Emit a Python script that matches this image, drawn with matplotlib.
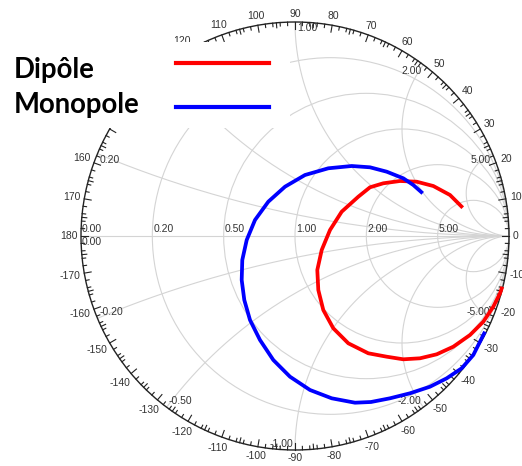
import numpy as np
import matplotlib
matplotlib.use("Agg")
import matplotlib.pyplot as plt
from matplotlib.patches import Circle, Rectangle
from matplotlib.lines import Line2D

dipole_re = [0.7837, 0.7243, 0.6463, 0.5687, 0.4907, 0.4126, 0.3505, 0.2958, 0.2182,
             0.1636, 0.1248, 0.1042, 0.1089, 0.1322, 0.1790, 0.2491, 0.3425, 0.4285,
             0.5061, 0.5841, 0.6622, 0.7397, 0.8178, 0.8799, 0.9266, 0.9579, 0.9687]
dipole_im = [0.1322, 0.1916, 0.2336, 0.2537, 0.2570, 0.2463, 0.2276, 0.1836, 0.1136,
             0.0280, -0.0654, -0.1589, -0.2523, -0.3458, -0.4313, -0.5014, -0.5481, -0.5640,
             -0.5762, -0.5715, -0.5528, -0.5173, -0.4626, -0.4005, -0.3304, -0.2678, -0.2369]

monopole_re = [0.5967, 0.5528, 0.5061, 0.4285, 0.3505, 0.2650, 0.1556, 0.0467, -0.0467,
               -0.1248, -0.1869, -0.2257, -0.2463, -0.2491, -0.2369, -0.2103, -0.1636, -0.1014,
               -0.0234, 0.0701, 0.1715, 0.2804, 0.3551, 0.4439, 0.5374, 0.6308, 0.7089,
               0.7790, 0.8332, 0.8879]
monopole_im = [0.1995, 0.2383, 0.2696, 0.3005, 0.3210, 0.3271, 0.3164, 0.2850, 0.2304,
               0.1603, 0.0748, -0.0187, -0.1121, -0.2056, -0.2991, -0.3925, -0.4860, -0.5794,
               -0.6575, -0.7196, -0.7584, -0.7790, -0.7757, -0.7584, -0.7350, -0.7042, -0.6650,
               -0.6182, -0.5561, -0.4472]

series_names = ["Dipôle", "Monopole"]
series_colors = ["#ff0000", "#0000ff"]

resistance_values = [0.2, 0.5, 1.0, 2.0, 5.0]
reactance_values = [0.2, 0.5, 1.0, 2.0, 5.0]
angle_labels = [a for a in range(-170, 190, 10) if a not in (130, 140, 150)]

# ---- figure ----
W, H = 522, 466
CX, CY, R = 295, 236, 214
fig = plt.figure(figsize=(W / 100, H / 100), dpi=100)
ax = fig.add_axes([0, 0, 1, 1])
ax.set_xlim(-CX / R, (W - CX) / R)
ax.set_ylim(-(H - CY) / R, CY / R)
ax.axis("off")
px = 1.0 / R

grid_c = "#d4d4d4"
txt_c = "#333333"
font = "Liberation Sans"

# real axis
ax.plot([-1, 1], [0, 0], color=grid_c, lw=0.8, zorder=1)
# resistance circles
for r in resistance_values:
    ax.add_patch(Circle((r / (1 + r), 0), 1 / (1 + r), fill=False, ec=grid_c, lw=0.8, zorder=1))
# reactance arcs
rr = np.concatenate([[0], np.logspace(-3, 4, 600)])
for x in reactance_values:
    for s in (1, -1):
        z = rr + 1j * s * x
        g = (z - 1) / (z + 1)
        ax.plot(g.real, g.imag, color=grid_c, lw=0.8, zorder=1)

# outer circle
ax.add_patch(Circle((0, 0), 1, fill=False, ec="#222222", lw=1.0, zorder=3))
# angle ticks
for d in range(-179, 181):
    if d % 10 == 0:
        L = 7
    elif d % 5 == 0:
        L = 5
    elif d % 2 == 0:
        L = 3.5
    else:
        continue
    a = np.deg2rad(d)
    ax.plot([np.cos(a), (1 - L * px) * np.cos(a)], [np.sin(a), (1 - L * px) * np.sin(a)],
            color="#222222", lw=0.8, zorder=3)
# angle labels
for d in angle_labels:
    s = str(d)
    a = np.deg2rad(d)
    w = 5.6 * len(s.replace("-", "")) + (3.5 if "-" in s else 0)
    h = 8
    off = 4 + 0.5 * w * abs(np.cos(a)) + 0.5 * h * abs(np.sin(a))
    rad = 1 + off * px
    ax.text(rad * np.cos(a), rad * np.sin(a), s, ha="center", va="center",
            fontsize=7.5, color=txt_c, family=font, zorder=4)

# resistance labels on real axis
for r in [0.0] + resistance_values:
    u = (r - 1) / (r + 1)
    ax.text(u + 1 * px, 1.5 * px, f"{r:.2f}", ha="left", va="bottom",
            fontsize=7.5, color=txt_c, family=font, zorder=4)
ax.text(-1 + 1 * px, -1.5 * px, "0.00", ha="left", va="top",
        fontsize=7.5, color=txt_c, family=font, zorder=4)
# reactance labels on the rim
for x in reactance_values:
    for s in (1, -1):
        g = (1j * s * x - 1) / (1j * s * x + 1)
        u, v = g.real, g.imag
        if s > 0:
            ha = "left" if u < 0.01 else "right"
            va = "top"
            lab = f"{x:.2f}"
            dy = -1 * px
        else:
            ha = "left" if u < -0.01 else "right"
            va = "bottom"
            lab = f"-{x:.2f}"
            dy = 1 * px
        if s > 0 and x == 0.5:
            continue  # hidden under the legend block in the reference
        dx = 2 * px if ha == "left" else -2 * px
        ax.text(u + dx, v + dy, lab, ha=ha, va=va, fontsize=7.5, color=txt_c,
                family=font, zorder=4)

# data curves
for re_, im_, col in ((dipole_re, dipole_im, series_colors[0]),
                      (monopole_re, monopole_im, series_colors[1])):
    ax.plot(re_, im_, color=col, lw=2.7, zorder=6, solid_capstyle="butt",
            solid_joinstyle="round")

# legend block (white box over chart)
ax.add_patch(Rectangle((-CX / R, (CY - 128) / R), 290 / R, (128 - 42) / R,
                       fc="white", ec="none", zorder=8))
legend_y_text = [78, 113]
legend_y_line = [63, 107]
for name, col, yt, yl in zip(series_names, series_colors, legend_y_text, legend_y_line):
    fig.text(14 / W, 1 - yt / H, name, fontsize=19.8, weight="bold", family="Lato",
             va="baseline", ha="left", color="black", zorder=9)
    fig.add_artist(Line2D([176 / W, 269 / W], [1 - yl / H] * 2, color=col, lw=3.0,
                          transform=fig.transFigure, zorder=9))

fig.savefig("out.png", dpi=100, facecolor="white")
